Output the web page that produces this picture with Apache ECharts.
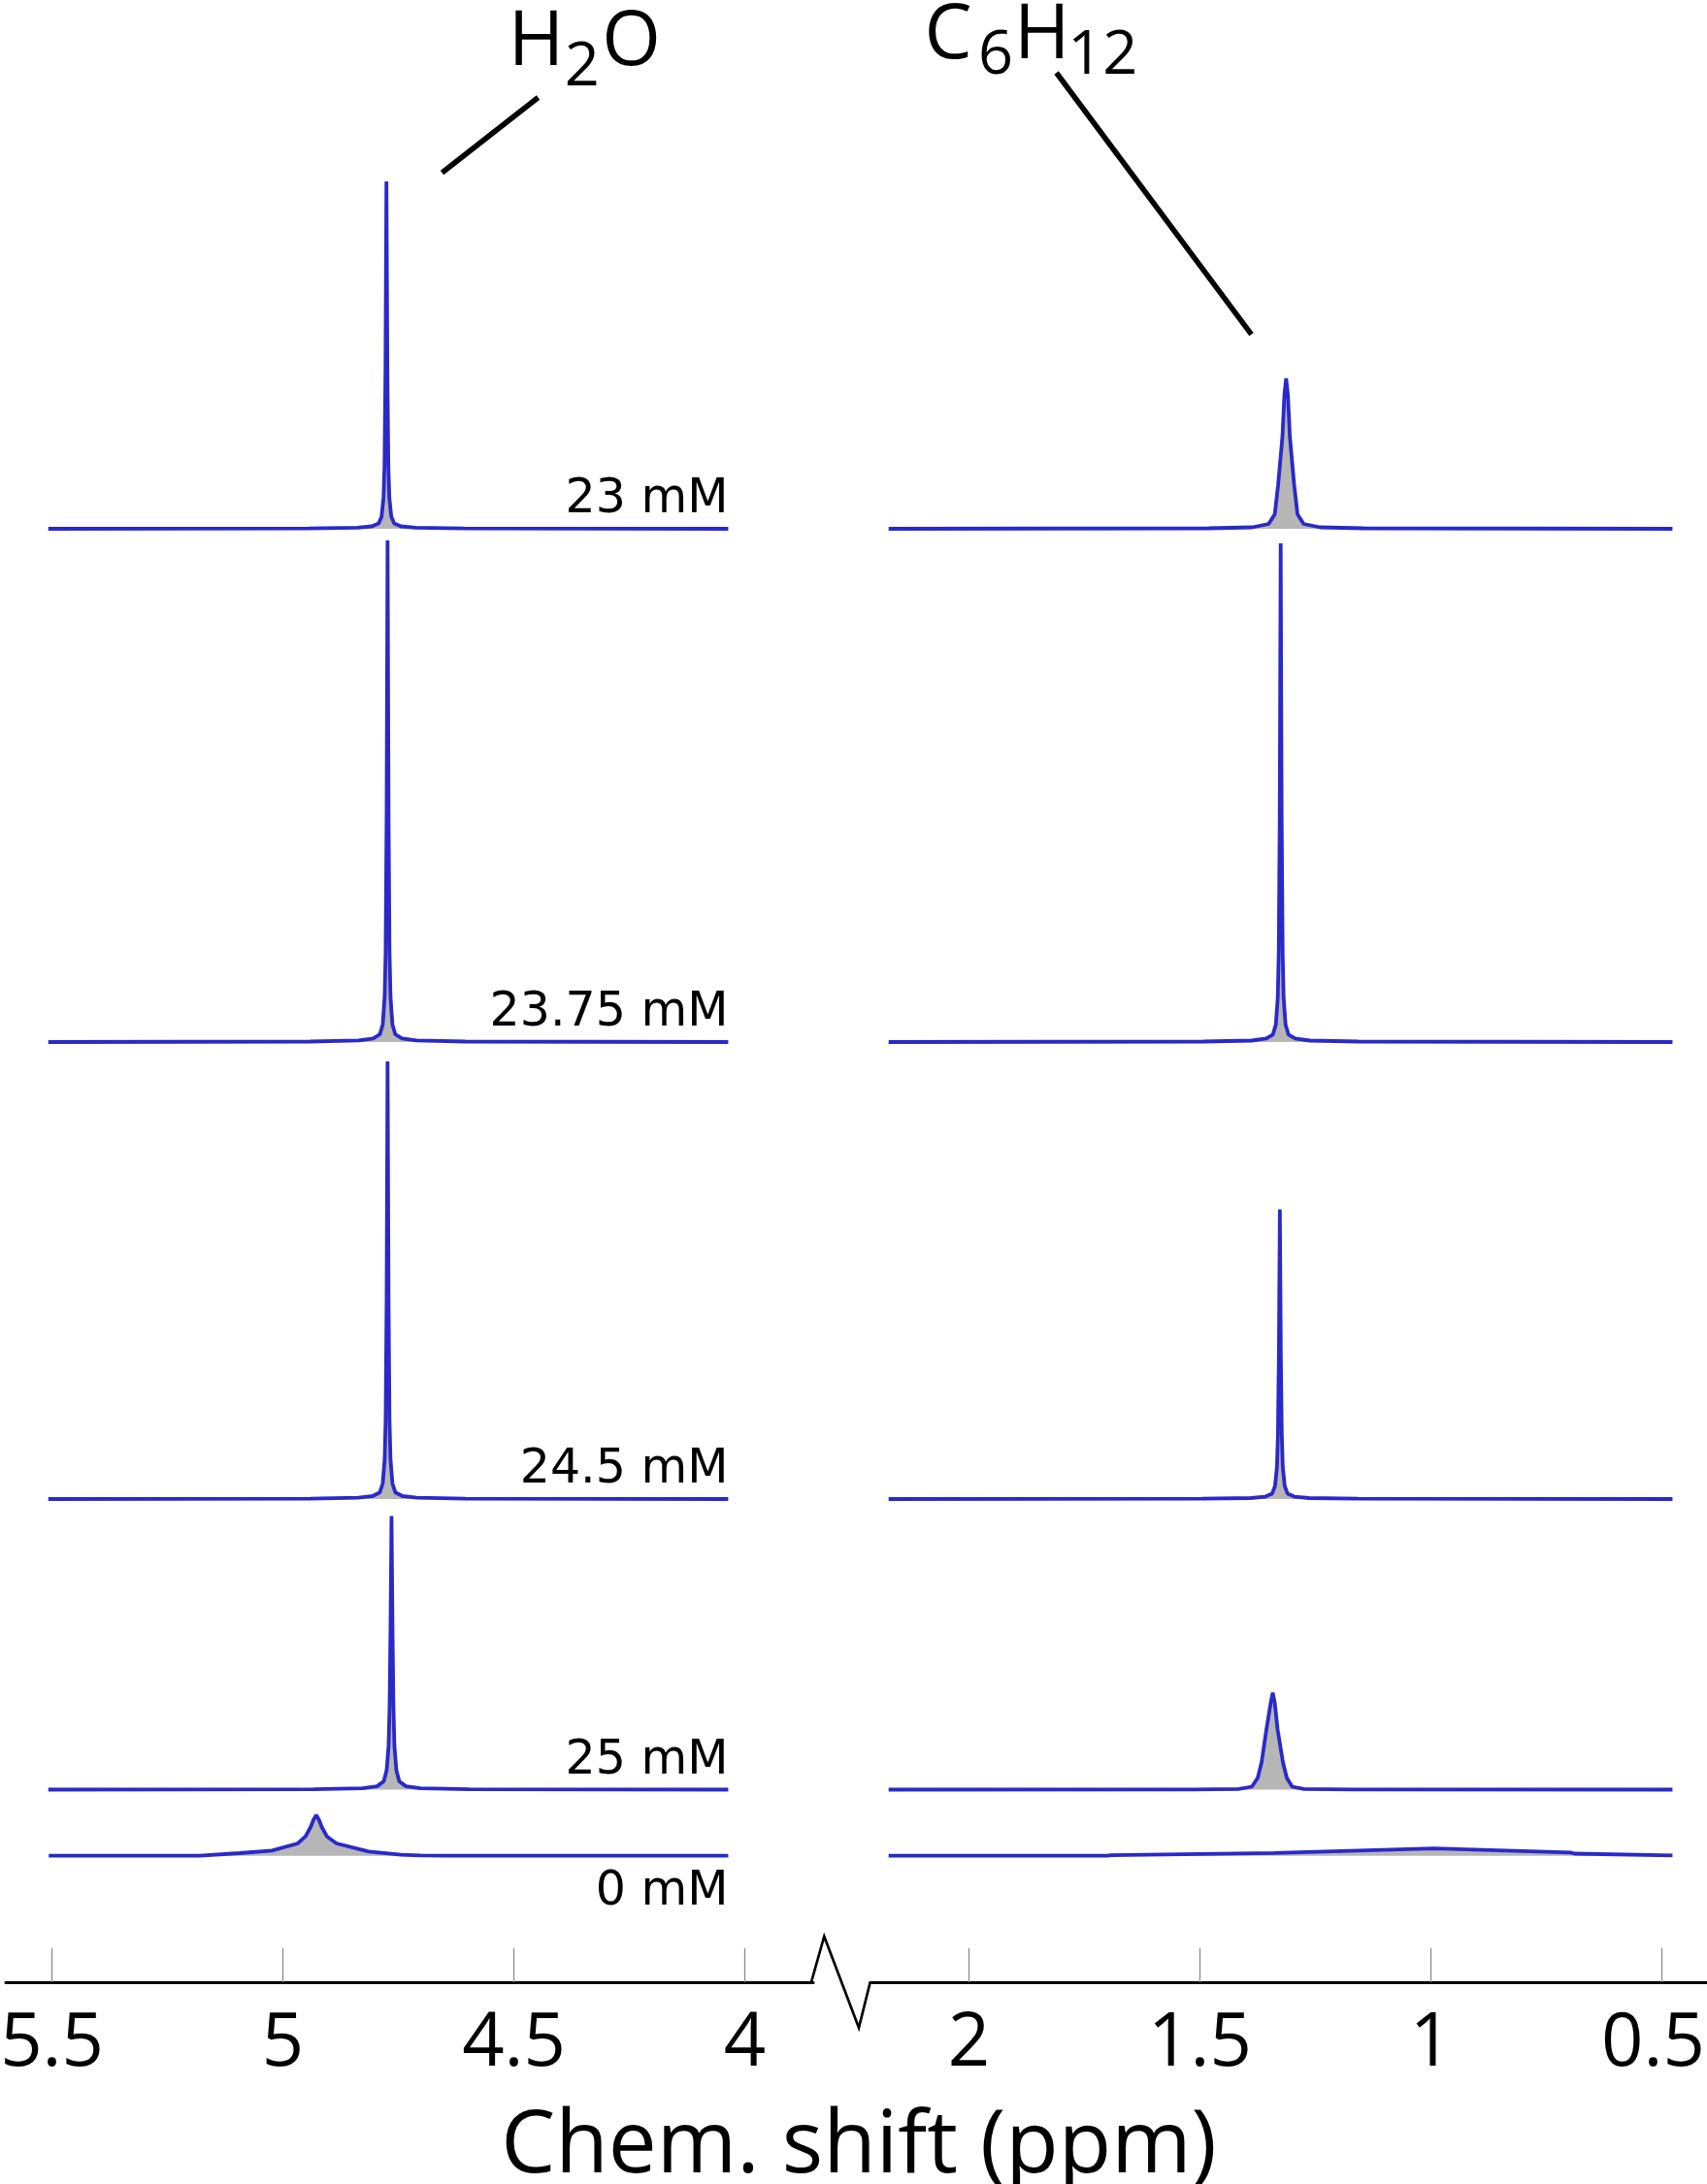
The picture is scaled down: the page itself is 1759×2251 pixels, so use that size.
<!DOCTYPE html>
<html><head><meta charset="utf-8">
<script src="https://cdn.jsdelivr.net/npm/echarts@6/dist/echarts.min.js"></script>
<style>html,body{margin:0;padding:0;background:#fff}#c{width:1759px;height:2251px}</style>
</head><body><div id="c"></div>
<script>
// ---------------- data ----------------
const concentrations = ['23 mM', '23.75 mM', '24.5 mM', '25 mM', '0 mM'];
const leftTicks = [5.5, 5, 4.5, 4];
const rightTicks = [2, 1.5, 1, 0.5];
const axisTitle = 'Chem. shift (ppm)';

// H2O region spectra: [chemical shift (ppm), intensity (a.u.)]
const water_23 = [[5.508,0],[4.944,0.4],[4.839,1.1],[4.8075,2.5],[4.7928,5.4],[4.7865,12.5],[4.7823,32],[4.7802,64],[4.7781,161],[4.776,358],[4.7739,161],[4.7718,64],[4.7697,32],[4.7655,12.5],[4.7592,5.4],[4.7445,2.5],[4.713,1.1],[4.608,0.4],[4.036,0]];
const water_2375 = [[5.508,0],[4.9415,0.5],[4.8365,1.6],[4.805,3.6],[4.7903,7.8],[4.784,18],[4.7798,47],[4.7777,93],[4.7756,233],[4.7735,517],[4.7714,233],[4.7693,93],[4.7672,47],[4.763,18],[4.7567,7.8],[4.742,3.6],[4.7105,1.6],[4.6055,0.5],[4.036,0]];
const water_245 = [[5.508,0],[4.9415,0.45],[4.8365,1.4],[4.805,3.2],[4.7903,6.8],[4.784,16],[4.7798,41],[4.7777,81],[4.7756,203],[4.7735,451],[4.7714,203],[4.7693,81],[4.7672,41],[4.763,16],[4.7567,6.8],[4.742,3.2],[4.7105,1.4],[4.6055,0.45],[4.036,0]];
const water_25 = [[5.508,0],[4.933,0.4],[4.828,1.4],[4.7965,3.4],[4.7818,8.5],[4.7755,20],[4.7713,45],[4.7692,85],[4.7671,169],[4.765,282],[4.7629,169],[4.7608,85],[4.7587,45],[4.7545,20],[4.7482,8.5],[4.7335,3.4],[4.702,1.4],[4.597,0.4],[4.036,0]];
const water_0 = [[5.507,0],[5.180,0],[5.176,0.8],[5.094,2.7],[5.024,5.3],[4.968,12.7],[4.951,20],[4.940,29.7],[4.934,37],[4.928,42],[4.922,37],[4.916,29.7],[4.905,20],[4.884,12.7],[4.814,4.3],[4.745,1],[4.703,0.3],[4.646,0],[4.036,0]];

// C6H12 region spectra
const cyclo_23 = [[2.174,0],[1.4814,0.5],[1.3869,1.5],[1.3512,5],[1.3380,15],[1.3308,45],[1.3214,95],[1.3172,138],[1.3134,155],[1.3096,138],[1.3054,95],[1.2960,45],[1.2888,15],[1.2756,5],[1.2399,1.5],[1.1454,0.5],[0.477,0]];
const cyclo_2375 = [[2.174,0],[1.4932,0.5],[1.3882,1.5],[1.3567,3.6],[1.342,7.7],[1.3357,18],[1.3315,46],[1.3294,92.5],[1.3273,231],[1.3252,514],[1.3231,231],[1.321,92.5],[1.3189,46],[1.3147,18],[1.3084,7.7],[1.2937,3.6],[1.2622,1.5],[1.1572,0.5],[0.477,0]];
const cyclo_245 = [[2.174,0],[1.495,0.36],[1.39,1.0],[1.3585,2.4],[1.3438,5.4],[1.3375,13.4],[1.3333,33],[1.3312,66],[1.3291,149],[1.327,298.5],[1.3249,149],[1.3228,66],[1.3207,33],[1.3165,13.4],[1.3102,5.4],[1.2955,2.4],[1.264,1.0],[1.159,0.36],[0.477,0]];
const cyclo_25 = [[2.174,0],[1.5105,0.2],[1.4159,0.6],[1.3876,3],[1.3750,12],[1.3666,28],[1.3561,62],[1.3466,90],[1.3424,100],[1.3382,90],[1.3319,62],[1.3203,28],[1.3119,12],[1.3004,3],[1.2752,0.6],[1.1743,0.2],[0.477,0]];
const cyclo_0 = [[2.174,0],[1.70,0],[1.693,0.6],[1.34,2.8],[0.993,7.5],[0.698,3.4],[0.689,2.2],[0.477,0.4]];

const waterSpectra = [water_23, water_2375, water_245, water_25, water_0];
const cycloSpectra = [cyclo_23, cyclo_2375, cyclo_245, cyclo_25, cyclo_0];

// ---------------- layout / style ----------------
const rowBaseline = [545, 1074, 1545, 1844.5, 1912.7];
const axisLineY = 2043;
const rowH = 540;            // px height of each row grid == yAxis max
const LEFT = {left: 6, width: 832, min: 3.852, max: 5.6};
const RIGHT = {left: 896.7, width: 862.3, min: 0.4023, max: 2.2139};
const BLUE = '#2a29c8';
const FILL = '#b6b6b6';
const SANS = '"Open Sans", "Noto Sans", sans-serif';

const grids = [], xAxes = [], yAxes = [], series = [];
function addPanel(col, spectra, ticks, withLabels) {
  spectra.forEach((data, r) => {
    const gi = grids.length;
    grids.push({left: col.left, width: col.width, top: rowBaseline[r] - rowH, height: rowH,
      containLabel: false, outerBoundsMode: 'none'});
    const isBottom = r === spectra.length - 1;
    xAxes.push({
      type: 'value', gridIndex: gi, min: col.min, max: col.max, inverse: true,
      show: isBottom, position: 'bottom', offset: isBottom ? axisLineY - rowBaseline[r] : 0,
      axisLine: {show: true, onZero: false, lineStyle: {color: '#000', width: 3}},
      axisTick: {show: true, inside: true, length: 35, customValues: ticks,
        lineStyle: {color: '#8a8a8a', width: 1.3}},
      axisLabel: {show: true, customValues: ticks, margin: 26, fontFamily: SANS,
        fontSize: 76, color: '#000',
        formatter: v => (v === 0.5 ? '{e|' + v + '}' : String(v)),
        rich: {e: {fontFamily: SANS, fontSize: 76, color: '#000', padding: [0, 18, 0, 0]}}},
      splitLine: {show: false}
    });
    yAxes.push({type: 'value', gridIndex: gi, min: 0, max: rowH, show: false, splitLine: {show: false}});
    const s = {
      type: 'line', name: concentrations[r], xAxisIndex: gi, yAxisIndex: gi, data: data,
      symbol: 'none', clip: false, silent: true,
      lineStyle: {color: BLUE, width: 3.8},
      areaStyle: {color: FILL, opacity: 1, origin: 'start'},
      z: 2
    };
    if (withLabels) {
      const below = concentrations[r] === '0 mM';
      s.endLabel = {show: true, formatter: concentrations[r], fontFamily: '"DejaVu Sans"',
        fontSize: 49, color: '#000', align: 'right', distance: 0,
        verticalAlign: below ? 'top' : 'bottom', offset: below ? [0, 13] : [0, -5]};
    }
    series.push(s);
  });
}
addPanel(LEFT, waterSpectra, leftTicks, true);
addPanel(RIGHT, cycloSpectra, rightTicks, false);

const txt = (text, x, y, size) => ({type: 'text', x: x, y: y, silent: true,
  style: {text: text, fill: '#000', font: size + 'px ' + SANS, align: 'center', verticalAlign: 'middle'}});

const graphic = [
  // axis break symbol
  {type: 'polyline', silent: true, shape: {points: [[836, axisLineY], [849.3, 1995.7], [885, 2090], [896.7, axisLineY]]},
   style: {stroke: '#000', lineWidth: 2.7, fill: null, lineJoin: 'miter'}},
  // leader lines
  {type: 'line', silent: true, shape: {x1: 554.5, y1: 100.5, x2: 455.5, y2: 178}, style: {stroke: '#000', lineWidth: 5.5}},
  {type: 'line', silent: true, shape: {x1: 1088.6, y1: 75, x2: 1289.5, y2: 344.6}, style: {stroke: '#000', lineWidth: 5.5}},
  // H2O
  txt('H', 552.4, 45, 78), txt('2', 599.8, 70, 63), txt('O', 650.5, 45, 78),
  // C6H12
  txt('C', 977, 38, 78), txt('6', 1026, 58, 63), txt('H', 1073.8, 38, 78), txt('12', 1136.3, 58, 63),
  // axis title
  txt(axisTitle, 885, 2214, 89)
];

const chart = echarts.init(document.getElementById('c'), null, {renderer: 'canvas'});
chart.setOption({
  animation: false, backgroundColor: '#fff',
  grid: grids, xAxis: xAxes, yAxis: yAxes, series: series, graphic: graphic
});
</script></body></html>
